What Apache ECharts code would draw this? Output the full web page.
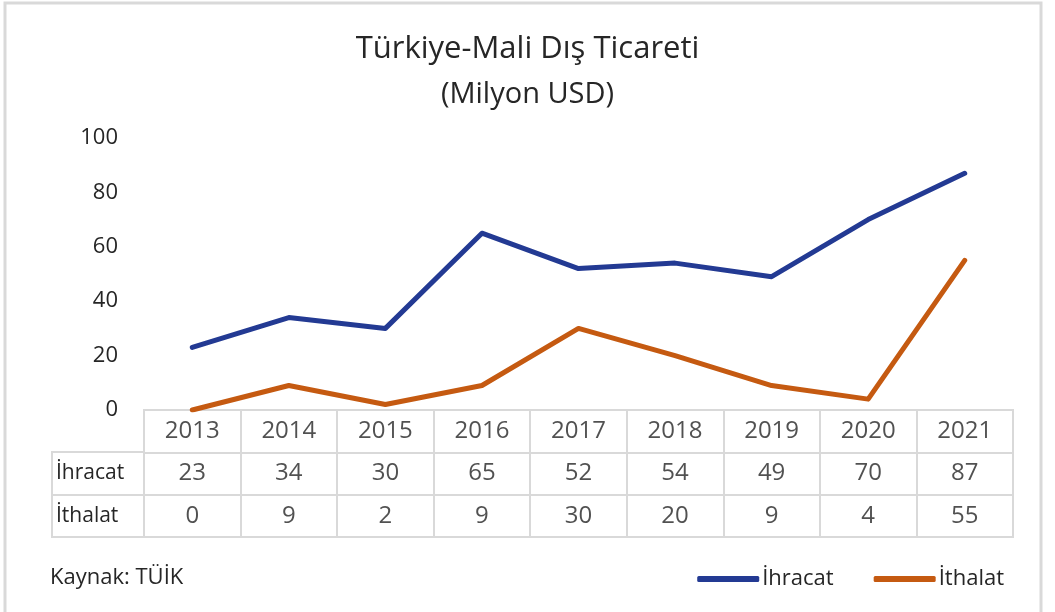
<!DOCTYPE html>
<html>
<head>
<meta charset="utf-8">
<title>Türkiye-Mali Dış Ticareti</title>
<script src="https://cdn.jsdelivr.net/npm/echarts@6/dist/echarts.min.js"></script>
<style>
  html, body { margin: 0; padding: 0; background: #fff; }
  #chart { width: 1055px; height: 612px; }
</style>
</head>
<body>
<div id="chart"></div>
<script>
var years = ['2013', '2014', '2015', '2016', '2017', '2018', '2019', '2020', '2021'];
var ihracat = [23, 34, 30, 65, 52, 54, 49, 70, 87];
var ithalat = [0, 9, 2, 9, 30, 20, 9, 4, 55];
var yTicks = [0, 20, 40, 60, 80, 100];
var rowNames = ['', 'İhracat', 'İthalat'];

var FONT = 'Open Sans';
var TXT = '#262626';
var GRID_LINE = '#d9d9d9';

// table cells built from the arrays above
var cells = [];
years.forEach(function (y, i) {
  cells.push([i, 0, y]);
  cells.push([i, 1, ihracat[i]]);
  cells.push([i, 2, ithalat[i]]);
});

var myChart = echarts.init(document.getElementById('chart'));
myChart.setOption({
  backgroundColor: '#fff',
  textStyle: { fontFamily: FONT },
  title: [{
    text: 'Türkiye-Mali Dış Ticareti',
    left: 'center',
    top: 29,
    textStyle: { fontFamily: FONT, fontSize: 31, fontWeight: 'normal', color: TXT }
  }, {
    text: '(Milyon USD)',
    left: 'center',
    top: 75,
    textStyle: { fontFamily: FONT, fontSize: 29, fontWeight: 'normal', color: TXT }
  }, {
    text: 'Kaynak: TÜİK',
    left: 45,
    top: 562,
    textStyle: { fontFamily: FONT, fontSize: 22, fontWeight: 'normal', color: TXT }
  }],
  legend: {
    data: ['İhracat', 'İthalat'],
    right: 46,
    top: 563,
    icon: 'roundRect',
    itemWidth: 62,
    itemHeight: 6,
    itemGap: 40,
    textStyle: { fontFamily: FONT, fontSize: 22, color: TXT, padding: [0, 0, 0, -2] }
  },
  graphic: [{
    type: 'rect',
    shape: { x: 5, y: 3, width: 1036, height: 640 },
    style: { fill: 'none', stroke: '#d9d9d9', lineWidth: 3 },
    silent: true
  }],
  grid: [
    // line chart area
    { left: 144, right: 42, top: 138, bottom: 202 },
    // data table cells
    { left: 144, right: 42, top: 410, bottom: 75, show: true, borderColor: GRID_LINE, borderWidth: 2 },
    // row-name column
    { left: 52, width: 92, top: 452, bottom: 75, show: true, borderColor: GRID_LINE, borderWidth: 2 }
  ],
  xAxis: [{
    gridIndex: 0,
    type: 'category',
    data: years,
    boundaryGap: true,
    axisLine: { show: false },
    axisTick: { show: false },
    axisLabel: { show: false }
  }, {
    gridIndex: 1,
    type: 'category',
    data: years,
    boundaryGap: true,
    axisLine: { show: false },
    axisTick: { show: false },
    axisLabel: { show: false },
    splitLine: { show: true, lineStyle: { color: GRID_LINE, width: 2 } }
  }, {
    gridIndex: 2,
    type: 'value',
    show: false
  }],
  yAxis: [{
    gridIndex: 0,
    type: 'value',
    min: 0,
    max: 100,
    interval: 20,
    axisLine: { show: false },
    axisTick: { show: false },
    splitLine: { show: false },
    axisLabel: {
      margin: 26,
      fontSize: 22,
      color: TXT,
      fontFamily: FONT,
      formatter: function (v) { return yTicks.indexOf(v) >= 0 ? String(v) : ''; }
    }
  }, {
    gridIndex: 1,
    type: 'category',
    data: rowNames,
    inverse: true,
    axisLine: { show: false },
    axisTick: { show: false },
    splitLine: { show: true, lineStyle: { color: GRID_LINE, width: 2 } },
    axisLabel: {
      align: 'left',
      margin: 88,
      fontSize: 21,
      color: TXT,
      fontFamily: FONT
    }
  }, {
    gridIndex: 2,
    type: 'category',
    data: ['a', 'b'],
    axisLine: { show: false },
    axisTick: { show: false },
    axisLabel: { show: false },
    splitLine: { show: true, lineStyle: { color: GRID_LINE, width: 2 } }
  }],
  series: [{
    name: 'İhracat',
    type: 'line',
    xAxisIndex: 0,
    yAxisIndex: 0,
    data: ihracat,
    symbol: 'none',
    color: '#233a93',
    lineStyle: { width: 5, cap: 'round', join: 'round' }
  }, {
    name: 'İthalat',
    type: 'line',
    xAxisIndex: 0,
    yAxisIndex: 0,
    data: ithalat,
    symbol: 'none',
    color: '#c55a11',
    lineStyle: { width: 5, cap: 'round', join: 'round' }
  }, {
    name: 'table',
    type: 'scatter',
    xAxisIndex: 1,
    yAxisIndex: 1,
    data: cells,
    symbolSize: 0,
    silent: true,
    label: {
      show: true,
      position: 'inside',
      fontSize: 24,
      color: TXT,
      fontFamily: FONT,
      formatter: function (p) { return String(p.value[2]); }
    }
  }]
});
</script>
</body>
</html>
